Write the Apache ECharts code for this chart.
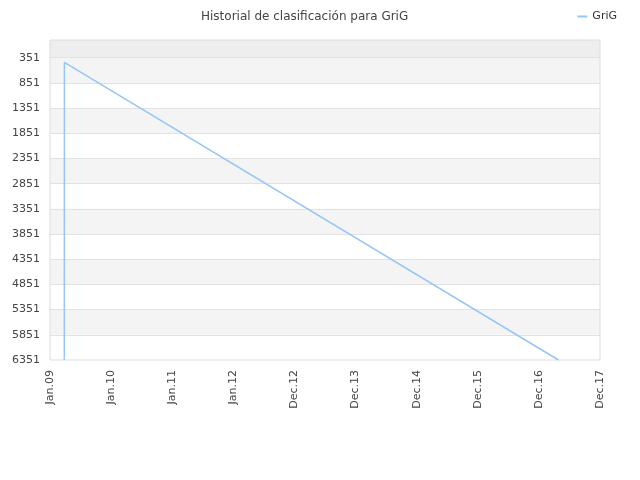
<!DOCTYPE html>
<html>
<head>
<meta charset="utf-8">
<script src="https://cdn.jsdelivr.net/npm/echarts@6/dist/echarts.min.js"></script>
<style>html,body{margin:0;padding:0;background:#fff}#c{width:640px;height:480px}</style>
</head>
<body>
<div id="c"></div>
<script>
var titleText = 'Historial de clasificación para GriG';
var seriesName = 'GriG';
var xTickLabels = ['Jan.09','Jan.10','Jan.11','Jan.12','Dec.12','Dec.13','Dec.14','Dec.15','Dec.16','Dec.17'];
var yTicks = [351, 851, 1351, 1851, 2351, 2851, 3351, 3851, 4351, 4851, 5351, 5851, 6351];
var xPos = [0.234, 0.236, 8.32];
var ranks = [6351, 445, 6351];
var yMin = 0, yMax = 6351;

var data = xPos.map(function (x, i) { return [x, ranks[i]]; });

var bands = [];
bands.push([{ yAxis: yMin, itemStyle: { color: '#eeeeee' } }, { yAxis: yTicks[0] }]);
for (var i = 0; i < yTicks.length - 1; i++) {
  bands.push([{ yAxis: yTicks[i], itemStyle: { color: i % 2 === 0 ? '#f4f4f4' : '#ffffff' } }, { yAxis: yTicks[i + 1] }]);
}
var lines = yTicks.slice(0, yTicks.length - 1).map(function (v) { return { yAxis: v }; });

var chart = echarts.init(document.getElementById('c'));
chart.setOption({
  animation: false,
  textStyle: { fontFamily: 'DejaVu Sans' },
  title: {
    text: titleText, left: 196, top: 6,
    textStyle: { fontSize: 12, fontWeight: 'normal', color: '#444', fontFamily: 'DejaVu Sans' }
  },
  legend: {
    data: [seriesName], right: 18, top: 6, icon: 'rect', itemWidth: 10, itemHeight: 2, itemGap: 5,
    textStyle: { fontSize: 11, color: '#333', fontFamily: 'DejaVu Sans' }
  },
  grid: { left: 50, right: 40, top: 40, bottom: 120, show: true, borderColor: '#dddddd', borderWidth: 1, backgroundColor: 'transparent' },
  xAxis: {
    type: 'value', min: 0, max: xTickLabels.length - 1, interval: 1,
    axisLine: { show: false }, axisTick: { show: false }, splitLine: { show: false },
    axisLabel: {
      rotate: 90, fontSize: 11, color: '#444', margin: 10, fontFamily: 'DejaVu Sans',
      formatter: function (v) { return xTickLabels[Math.round(v)] || ''; }
    }
  },
  yAxis: {
    type: 'value', inverse: true, min: yMin, max: yMax,
    axisLine: { show: false }, axisTick: { show: false }, splitLine: { show: false },
    axisLabel: { customValues: yTicks, fontSize: 11, color: '#444', margin: 10, fontFamily: 'DejaVu Sans',
      formatter: function (v) { return String(v); } }
  },
  series: [{
    name: seriesName, type: 'line', data: data, showSymbol: false, symbol: 'none',
    lineStyle: { color: '#95c6f7', width: 1.5 }, itemStyle: { color: '#95c6f7' },
    markArea: { silent: true, data: bands, z: -1 },
    markLine: { silent: true, symbol: 'none', label: { show: false }, data: lines,
      lineStyle: { color: '#e2e2e2', width: 1, type: 'solid' } },
    z: 5
  }]
});
</script>
</body>
</html>
